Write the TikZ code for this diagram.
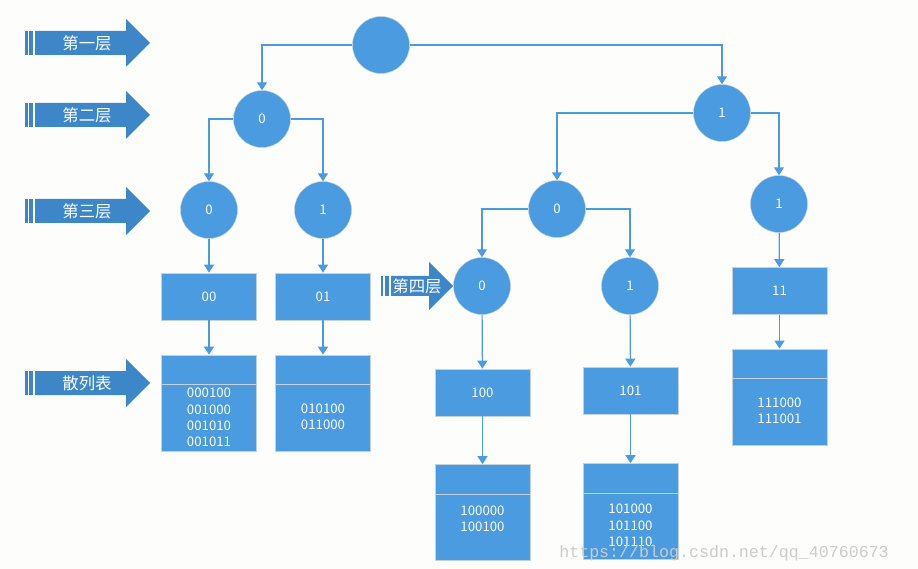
\documentclass[tikz,border=0pt]{standalone}
\usepackage{fontspec}
\setmainfont{Noto Sans CJK SC}
\newfontfamily\markfont{Liberation Mono}
\usetikzlibrary{arrows.meta}
\definecolor{TrieBlue}{HTML}{4A9BDF}
\definecolor{TrieDeep}{HTML}{3D86C8}
\definecolor{TrieEdge}{HTML}{C4D2DE}
\definecolor{TriePaper}{HTML}{FDFDFB}

\begin{document}
\begin{tikzpicture}[
	x=0.03cm, y=-0.03cm,
	font=\fontsize{11.3}{14}\selectfont,
	bit/.style={circle, draw=TrieEdge, line width=0.4pt, fill=TrieBlue, text=white, minimum size=1.71cm, inner sep=0pt},
	bucket/.style={draw=TrieEdge, line width=0.6pt, fill=TrieBlue, text=white, minimum width=2.85cm, minimum height=1.41cm, inner sep=0pt},
	table/.style={draw=TrieEdge, line width=0.6pt, fill=TrieBlue, minimum width=2.85cm, minimum height=2.88cm, inner sep=0pt},
	entries/.style={text=white, align=center, inner sep=0pt},
	divider/.style={draw=TrieEdge, line width=0.6pt},
	levelbar/.style={fill=TrieDeep},
	leveltext/.style={text=white, font=\fontsize{14}{14}\selectfont},
	link/.style={-{Triangle[length=2.4mm,width=3mm]}, draw=TrieBlue, line width=1pt}
]
\fill[TriePaper] (0,0) rectangle (918,569);
\useasboundingbox (0,0) rectangle (918,569);

% level markers on the left
\foreach \c/\t/\n in {43/第一层/one, 115/第二层/two, 211/第三层/three, 383/散列表/hash}{
	\fill[levelbar] (25,\c-12) rectangle (27.5,\c+12);
	\fill[levelbar] (29,\c-12) rectangle (33,\c+12);
	\fill[levelbar] (35,\c-12) -- (126,\c-12) -- (126,\c-24) -- (150,\c) -- (126,\c+24) -- (126,\c+12) -- (35,\c+12) -- cycle;
	\node[leveltext] (lv\n) at (87,\c) {\t};
}
\fill[levelbar] (381,276) rectangle (383,296);
\fill[levelbar] (385,276) rectangle (389,296);
\fill[levelbar] (391,276) -- (429,276) -- (429,262) -- (453,286) -- (429,310) -- (429,296) -- (391,296) -- cycle;
\node[leveltext] (lvfour) at (417,286) {第四层};

% trie nodes
\node[bit] (root) at (381,45) {};
\node[bit] (n0) at (262,119) {0};
\node[bit] (n1) at (722,113) {1};
\node[bit] (n00) at (209,210) {0};
\node[bit] (n01) at (323,210) {1};
\node[bit] (n10) at (557,209) {0};
\node[bit] (n11) at (779,204) {1};
\node[bit] (n100) at (482,286) {0};
\node[bit] (n101) at (630,286) {1};

% bucket labels
\node[bucket] (b00) at (209,296.5) {00};
\node[bucket] (b01) at (323,296.5) {01};
\node[bucket] (b100) at (482.5,392.5) {100};
\node[bucket] (b101) at (630.5,390.5) {101};
\node[bucket] (b11) at (779.5,291) {11};

% hash tables
\node[table] (t00) at (209,403) {};
\node[table] (t01) at (323,403) {};
\node[table] (t100) at (482.5,512.5) {};
\node[table] (t101) at (630.5,511.5) {};
\node[table] (t11) at (779.5,397) {};
\foreach \t in {t00,t01,t100,t101,t11}
	\draw[divider] ([yshift=-0.9cm]\t.north west) -- ([yshift=-0.9cm]\t.north east);
\node[entries] (e00) at (209,417.5) {000100\\001000\\001010\\001011};
\node[entries] (e01) at (323,417) {010100\\011000};
\node[entries] (e100) at (482.5,519) {100000\\100100};
\node[entries] (e101) at (630.5,525.5) {101000\\101100\\101110};
\node[entries] (e11) at (779.5,411) {111000\\111001};

% connectors
\draw[link] (root.west) -| (n0);
\draw[link] (root.east) -| (n1);
\draw[link] (n0.west) -| (n00);
\draw[link] (n0.east) -| (n01);
\draw[link] (n1.west) -| (n10);
\draw[link] (n1.east) -| (n11);
\draw[link] (n10.west) -| (n100);
\draw[link] (n10.east) -| (n101);
\draw[link] (n00) -- (b00);
\draw[link] (n01) -- (b01);
\draw[link] (n100) -- (b100);
\draw[link] (n101) -- (b101);
\draw[link] (n11) -- (b11);
\draw[link] (b00) -- (t00);
\draw[link] (b01) -- (t01);
\draw[link] (b100) -- (t100);
\draw[link] (b101) -- (t101);
\draw[link] (b11) -- (t11);

\node[text=black!20, font=\markfont\fontsize{14.2}{14}\selectfont, anchor=east, inner sep=0pt] (mark) at (889,553) {https://blog.csdn.net/qq\_40760673};
\end{tikzpicture}
\end{document}
